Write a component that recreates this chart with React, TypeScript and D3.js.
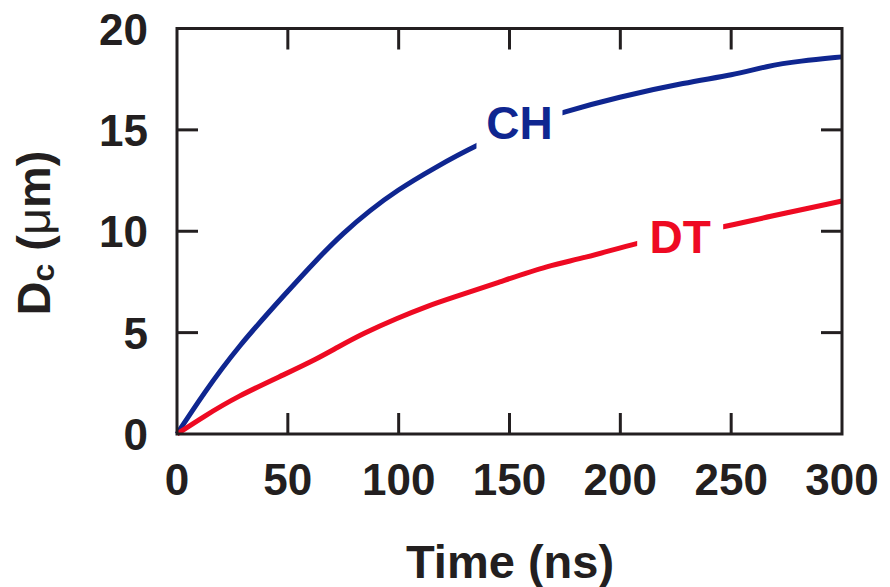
import React, { useEffect, useRef } from "react";
import * as d3 from "d3";

const chTime = [0, 12, 27, 50, 63, 75, 87, 99, 115.6, 136, 155, 175, 198.4, 230, 251, 266, 281, 300];
const chValue = [0, 2.0, 4.25, 7.05, 8.6, 9.92, 11.03, 12.0, 13.1, 14.3, 15.2, 15.9, 16.6, 17.35, 17.7, 18.15, 18.4, 18.6];
const dtTime = [0, 11.9, 26.9, 49.5, 63, 72, 84, 99, 114, 123, 145.7, 168, 183, 209, 225, 243.5, 266, 300];
const dtValue = [0, 0.85, 1.84, 2.99, 3.7, 4.25, 4.96, 5.7, 6.35, 6.68, 7.5, 8.33, 8.65, 9.47, 9.8, 10.13, 10.7, 11.49];
const xTicks = [0, 50, 100, 150, 200, 250, 300];
const yTicks = [0, 5, 10, 15, 20];
const labels = [
  { text: "CH", t: 154.5, v: 15.35, color: "#0f2690" },
  { text: "DT", t: 227, v: 9.72, color: "#ee0a22" },
];

export default function App() {
  const ref = useRef<SVGSVGElement>(null);
  useEffect(() => {
    const svg = d3.select(ref.current);
    svg.selectAll("*").remove();
    const x = d3.scaleLinear().domain([0, 300]).range([177, 842]);
    const y = d3.scaleLinear().domain([0, 20]).range([434, 28.5]);
    const font = "'Liberation Sans', Arial, Helvetica, sans-serif";
    const axisColor = "#231f20";
    const tickLen = 21;

    const line = d3
      .line<[number, number]>()
      .x((d) => x(d[0]))
      .y((d) => y(d[1]))
      .curve(d3.curveBasis);

    const series = [
      { t: chTime, v: chValue, color: "#0f2690" },
      { t: dtTime, v: dtValue, color: "#ee0a22" },
    ];
    series.forEach((s) => {
      svg
        .append("path")
        .attr("d", line(s.t.map((t, i) => [t, s.v[i]] as [number, number])))
        .attr("fill", "none")
        .attr("stroke", s.color)
        .attr("stroke-width", 5)
        .attr("stroke-linejoin", "round");
    });

    labels.forEach((l) => {
      const cx = x(l.t);
      const cy = y(l.v);
      svg
        .append("rect")
        .attr("x", cx - 43)
        .attr("y", cy - 30)
        .attr("width", 86)
        .attr("height", 60)
        .attr("fill", "white");
      svg
        .append("text")
        .attr("x", cx)
        .attr("y", cy + 16.5)
        .attr("text-anchor", "middle")
        .attr("font-family", font)
        .attr("font-weight", "bold")
        .attr("font-size", 46)
        .attr("fill", l.color)
        .text(l.text);
    });

    svg
      .append("rect")
      .attr("x", x(0))
      .attr("y", y(20))
      .attr("width", x(300) - x(0))
      .attr("height", y(0) - y(20))
      .attr("fill", "none")
      .attr("stroke", axisColor)
      .attr("stroke-width", 3);

    xTicks.slice(1, -1).forEach((t) => {
      svg.append("line").attr("x1", x(t)).attr("x2", x(t)).attr("y1", y(0)).attr("y2", y(0) - tickLen).attr("stroke", axisColor).attr("stroke-width", 3);
      svg.append("line").attr("x1", x(t)).attr("x2", x(t)).attr("y1", y(20)).attr("y2", y(20) + tickLen).attr("stroke", axisColor).attr("stroke-width", 3);
    });
    yTicks.slice(1, -1).forEach((v) => {
      svg.append("line").attr("x1", x(0)).attr("x2", x(0) + tickLen).attr("y1", y(v)).attr("y2", y(v)).attr("stroke", axisColor).attr("stroke-width", 3);
      svg.append("line").attr("x1", x(300)).attr("x2", x(300) - tickLen).attr("y1", y(v)).attr("y2", y(v)).attr("stroke", axisColor).attr("stroke-width", 3);
    });

    xTicks.forEach((t) => {
      svg
        .append("text")
        .attr("x", x(t))
        .attr("y", 495)
        .attr("text-anchor", "middle")
        .attr("font-family", font)
        .attr("font-weight", "bold")
        .attr("font-size", 44)
        .attr("fill", axisColor)
        .text(String(t));
    });
    yTicks.forEach((v) => {
      svg
        .append("text")
        .attr("x", 148)
        .attr("y", y(v) + 16)
        .attr("text-anchor", "end")
        .attr("font-family", font)
        .attr("font-weight", "bold")
        .attr("font-size", 44)
        .attr("fill", axisColor)
        .text(String(v));
    });

    svg
      .append("text")
      .attr("x", 510)
      .attr("y", 578)
      .attr("text-anchor", "middle")
      .attr("font-family", font)
      .attr("font-weight", "bold")
      .attr("font-size", 47)
      .attr("fill", axisColor)
      .text("Time (ns)");

    const yt = svg
      .append("text")
      .attr("transform", "translate(50,233) rotate(-90)")
      .attr("text-anchor", "middle")
      .attr("font-family", font)
      .attr("font-weight", "bold")
      .attr("font-size", 47)
      .attr("fill", axisColor);
    yt.append("tspan").text("D");
    yt.append("tspan").attr("font-size", 32).attr("dy", 4).text("c");
    yt.append("tspan").attr("dy", -4).text(" (");
    yt.append("tspan").attr("font-weight", "normal").text("\u03bc");
    yt.append("tspan").text("m)");
  }, []);

  return (
    <svg
      ref={ref}
      width={890}
      height={587}
      style={{ position: "absolute", left: 0, top: 0, background: "white" }}
    />
  );
}
